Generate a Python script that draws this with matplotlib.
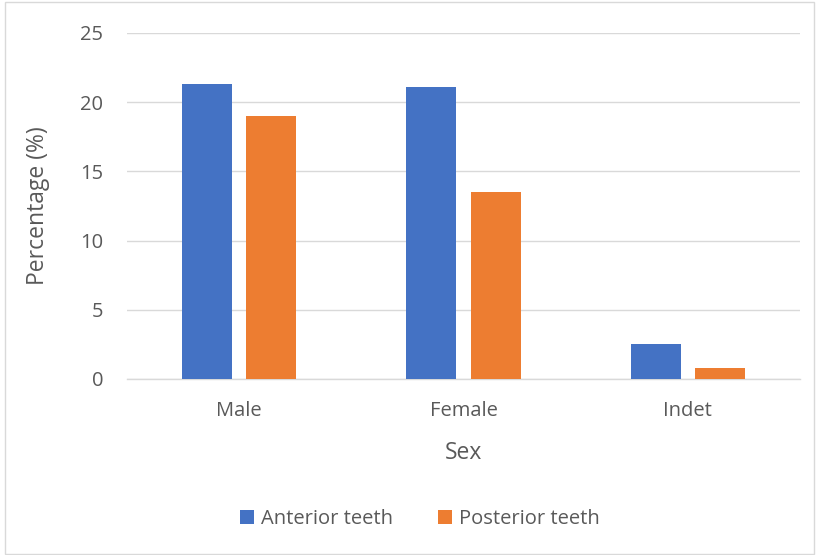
import numpy as np
import matplotlib
matplotlib.use("Agg")
import matplotlib.pyplot as plt
from matplotlib.patches import Rectangle

plt.rcParams['font.family'] = ['Open Sans', 'DejaVu Sans']

sexes = ['Male', 'Female', 'Indet']
anterior = [21.3, 21.1, 2.5]
posterior = [19.0, 13.5, 0.8]
series_names = ['Anterior teeth', 'Posterior teeth']
yticks = [0, 5, 10, 15, 20, 25]

blue = '#4472C4'
orange = '#ED7D31'
text_col = '#595959'

fig = plt.figure(figsize=(8.19, 5.55), dpi=100)
ax = fig.add_axes([127/819, 1 - 379/555, 673/819, 346/555])

x = np.arange(len(sexes))
w = 0.223
off = 0.143
ax.bar(x - off, anterior, w, color=blue, label=series_names[0], zorder=3)
ax.bar(x + off, posterior, w, color=orange, label=series_names[1], zorder=3)

ax.set_xlim(-0.5, len(sexes) - 0.5)
ax.set_ylim(0, 25)
ax.set_yticks(yticks)
ax.set_xticks(x)
ax.set_xticklabels(sexes)
ax.grid(axis='y', color='#D9D9D9', linewidth=1.0, zorder=0)
for s in ['top', 'right', 'left']:
    ax.spines[s].set_visible(False)
ax.spines['bottom'].set_color('#D9D9D9')
ax.spines['bottom'].set_linewidth(1.0)
ax.tick_params(axis='both', length=0, labelsize=14.5, labelcolor=text_col)
ax.tick_params(axis='y', pad=17)
ax.tick_params(axis='x', pad=16)

ax.set_xlabel('Sex', fontsize=16.5, color=text_col, labelpad=14)
ax.set_ylabel('Percentage (%)', fontsize=16.5, color=text_col, labelpad=22)

leg = fig.legend(loc='center', bbox_to_anchor=(420/819, 1 - 519/555), ncol=2,
                 frameon=False, fontsize=14.5, handlelength=0.7, handleheight=0.7,
                 handletextpad=0.35, columnspacing=2.2)
for t in leg.get_texts():
    t.set_color(text_col)

fig.patches.append(Rectangle((5/819, 1/555), 809/819, 552/555, transform=fig.transFigure,
                             fill=False, edgecolor='#D9D9D9', linewidth=1.0))

fig.savefig('out.png', dpi=100)
